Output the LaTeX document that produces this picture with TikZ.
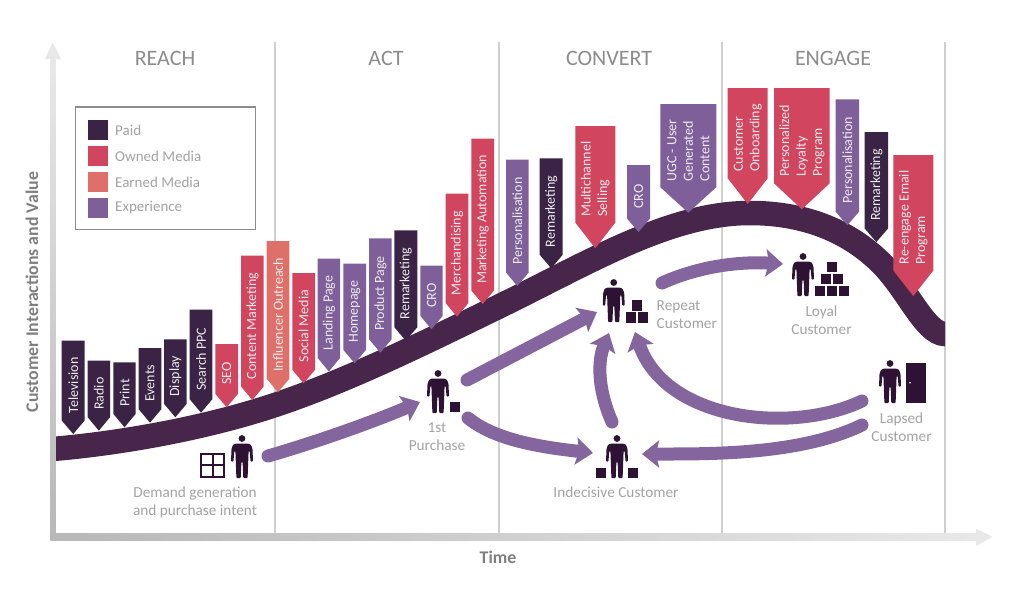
\documentclass[tikz,border=0pt]{standalone}
\usepackage{fontspec}
\setmainfont{Carlito}
\usetikzlibrary{arrows.meta,calc}
\definecolor{paidc}{HTML}{3B2345}
\definecolor{ownedc}{HTML}{D2455F}
\definecolor{earnedc}{HTML}{DF7069}
\definecolor{expc}{HTML}{7F5F99}
\definecolor{bandc}{HTML}{48264C}
\definecolor{iconc}{HTML}{2E1233}
\definecolor{labelc}{HTML}{A3A3A3}
\definecolor{headc}{HTML}{8C8C8C}
\definecolor{axisc}{HTML}{7F7F7F}
\definecolor{sepc}{HTML}{CFCFCF}
\tikzset{
  x=1pt,y=-1pt,
  pentext/.style={text=white!92!black,rotate=90,align=left,inner sep=0pt,font=\fontsize{14}{16.5}\selectfont},
  lab/.style={text=labelc,align=center,inner sep=0pt,font=\fontsize{15.3}{18}\selectfont},
  leglab/.style={text=labelc,anchor=west,inner sep=0pt,font=\fontsize{15}{18}\selectfont},
  phase/.style={text=headc,inner sep=0pt,font=\fontsize{22}{24}\selectfont},
  axlab/.style={text=axisc,inner sep=0pt,font=\fontsize{17.8}{20}\selectfont\bfseries},
  sep/.style={draw=sepc,line width=1.2pt},
  flow/.style={draw=expc!96!white,line width=13pt,line cap=round,-{Stealth[length=17pt,width=27pt,inset=3pt]}},
}
\newcommand\pennant[8]{%
  \pgfmathsetmacro\pcx{(#2+#3)/2}%
  \pgfmathsetmacro\psy{#5-#6}%
  \pgfmathsetmacro\ptxt{(#4+#5)/2-(#6>20?8:2)}%
  \fill[#7] (#2,#4) -- (#3,#4) -- (#3,\psy) -- (\pcx,#5) -- (#2,\psy) -- cycle;
  \node[pentext] (#1) at (\pcx,\ptxt) {#8};
}
\newcommand\personicon[2]{%
  \begin{scope}[shift={(#1,#2)}]
    \fill[iconc] (0,3.5) circle[radius=3.4];
    \fill[iconc,rounded corners=0.8pt] (-6,8.5) -- (6,8.5) -- (9,9.8) -- (10.5,14) -- (11,26.5) -- (8.6,26.5) -- (7.6,16) -- (6.6,16) -- (6.2,27) -- (5.6,43) -- (1.3,43) -- (0.6,27) -- (-0.6,27) -- (-1.3,43) -- (-5.6,43) -- (-6.2,27) -- (-6.6,16) -- (-7.6,16) -- (-8.6,26.5) -- (-11,26.5) -- (-10.5,14) -- (-9,9.8) -- cycle;
  \end{scope}}
\newcommand\crate[2]{\fill[iconc] (#1,#2) rectangle ++(10.4,10.4);}
\begin{document}
\begin{tikzpicture}
\useasboundingbox (0,0) rectangle (1024,594);
% separators
\draw[sep] (275,42) -- (275,535);
\draw[sep] (499,42) -- (499,535);
\draw[sep] (722,42) -- (722,535);
\draw[sep] (945,42) -- (945,535);
% axes
\shade[bottom color=black!28,top color=black!9] (50.7,59) rectangle (55.7,540);
\fill[black!9] (45,59) -- (52.7,42.7) -- (61,59) -- cycle;
\shade[left color=black!28,right color=black!9] (50.7,533.5) rectangle (976,540);
\fill[black!9] (976,529) -- (992.7,536.7) -- (976,546) -- cycle;
% phases
\node[phase] (reach) at (165,58) {REACH};
\node[phase] (act) at (386,58) {ACT};
\node[phase] (convert) at (609,58) {CONVERT};
\node[phase] (engage) at (833,58) {ENGAGE};
% axis labels
\node[axlab,rotate=90] (ylab) at (32,292) {Customer Interactions and Value};
\node[axlab] (xlab) at (498,557) {Time};
% legend
\draw[draw=black!45,line width=1.3pt] (75.7,107) rectangle (255.7,229.3);
\fill[paidc] (88.3,120.3) rectangle (108.3,140.3);
\fill[ownedc] (88.3,146.3) rectangle (108.3,166.3);
\fill[earnedc] (88.3,172) rectangle (108.3,192);
\fill[expc] (88.3,197.5) rectangle (108.3,217.5);
\node[leglab] (lpaid) at (115,130.5) {Paid};
\node[leglab] (lowned) at (115,156.5) {Owned Media};
\node[leglab] (learned) at (115,182) {Earned Media};
\node[leglab] (lexp) at (115,207.5) {Experience};
% band
\begin{scope}
\clip (56,150) rectangle (945,500);
\draw[bandc,line width=24.5pt] (40,450) .. controls (110,445) and (200,430) .. (275,405) .. controls (350,380) and (430,340) .. (500,306) .. controls (590,262) and (670,213) .. (750,213) .. controls (800,213) and (845,228) .. (880,262) .. controls (907,288) and (925,334) .. (945,334) -- (975,334);
\end{scope}
% pennants
\pennant{p1}{61.7}{84.7}{340.7}{434}{13.5}{paidc}{Television}
\pennant{p2}{87.7}{110}{360.7}{430.7}{13.5}{paidc}{Radio}
\pennant{p3}{113.3}{135.7}{362.3}{427.3}{13.5}{paidc}{Print}
\pennant{p4}{138.7}{161.3}{348}{422.7}{13.5}{paidc}{Events}
\pennant{p5}{164}{186.7}{339.3}{417.3}{13.5}{paidc}{Display}
\pennant{p6}{189.7}{212.3}{309.7}{412.7}{13.5}{paidc}{Search PPC}
\pennant{p7}{215.3}{238}{344}{407.3}{13.5}{ownedc}{SEO}
\pennant{p8}{241}{263.7}{255.7}{400}{13.5}{ownedc}{Content Marketing}
\pennant{p9}{266.7}{289.3}{241}{392.3}{13.5}{earnedc}{Influencer Outreach}
\pennant{p10}{292.3}{315}{273}{383.3}{13.5}{ownedc}{Social Media}
\pennant{p11}{317.7}{340}{258.7}{371.5}{13.5}{expc}{Landing Page}
\pennant{p12}{343.3}{366}{263.7}{363.3}{13.5}{expc}{Homepage}
\pennant{p13}{369}{391.7}{238.3}{352.7}{13.5}{expc}{Product Page}
\pennant{p14}{394.3}{417.3}{230.3}{340.7}{13.5}{paidc}{Remarketing}
\pennant{p15}{420.3}{442.7}{265.7}{329.3}{13.5}{expc}{CRO}
\pennant{p16}{445.7}{468.3}{193.7}{316.7}{13.5}{ownedc}{Merchandising}
\pennant{p17}{471.3}{494}{138.7}{304}{13.5}{ownedc}{Marketing Automation}
\pennant{p18}{506}{528.7}{159.7}{286}{13.5}{expc}{Personalisation}
\pennant{p19}{539.7}{562.7}{158.3}{268.3}{13.5}{paidc}{Remarketing}
\pennant{p20}{575.3}{615.3}{126}{248.3}{25.7}{ownedc}{Multichannel\\Selling}
\pennant{p21}{627}{650}{165}{232}{13.5}{expc}{CRO}
\pennant{p22}{660.3}{716.3}{104}{212.7}{25.5}{expc}{UGC - User\\Generated\\Content}
\pennant{p23}{727.7}{767.7}{88}{204}{25.7}{ownedc}{Customer\\Onboarding}
\pennant{p24}{774}{829.7}{88}{209.3}{26}{ownedc}{Personalized\\Loyalty\\Program}
\pennant{p25}{835.7}{859}{99.3}{225.3}{13.5}{expc}{Personalisation}
\pennant{p26}{864.7}{888}{132}{242}{13.5}{paidc}{Remarketing}
\pennant{p27}{893.3}{933.3}{155}{296}{25.5}{ownedc}{Re-engage Email\\Program}
% figures
\personicon{242}{435}
\draw[iconc,line width=2pt] (201,453.7) rectangle (224.3,477);
\draw[iconc,line width=2pt] (212.6,453.7) -- (212.6,477) (201,465.3) -- (224.3,465.3);
\personicon{438}{370}
\crate{450}{402}
\personicon{613.7}{279}
\crate{632}{300.3}\crate{625.7}{312.3}\crate{637.7}{312.3}
\personicon{617}{435}
\crate{595.7}{467.7}\crate{628}{467.7}
\personicon{803}{253}
\crate{815}{285.7}\crate{827}{285.7}\crate{839}{285.7}
\crate{821}{273.7}\crate{833}{273.7}
\crate{827}{261.7}
\personicon{890}{360}
\fill[iconc] (905.7,362.7) rectangle (925.7,403.3);
\fill[white] (910,382.7) circle[radius=0.9];
% labels
\node[lab] (demand) at (195,502) {Demand generation\\and purchase intent};
\node[lab] (first) at (437,437) {1st\\Purchase};
\node[lab] (indecisive) at (616,492) {Indecisive Customer};
\node[lab,align=left,anchor=west] (repeat) at (656.5,315) {Repeat\\Customer};
\node[lab] (loyal) at (821.5,320) {Loyal\\Customer};
\node[lab] (lapsed) at (901.5,427.5) {Lapsed\\Customer};
% flows
\coordinate (demandOut) at (268,456);
\coordinate (firstIn) at (420,402);
\coordinate (firstUp) at (467,380);
\coordinate (repeatIn) at (597,312);
\coordinate (firstDown) at (468,418);
\coordinate (indIn) at (593,453);
\coordinate (indUp) at (612,422);
\coordinate (repeatBottom) at (609,333);
\coordinate (lapsedUp) at (862,401);
\coordinate (repeatRight) at (635,332);
\coordinate (lapsedDown) at (862,425);
\coordinate (indRight) at (642,454);
\coordinate (repeatOut) at (662,283);
\coordinate (loyalIn) at (783,264);
\draw[flow] (demandOut) .. controls (320,441) and (375,421) .. (firstIn);
\draw[flow] (firstUp) -- (repeatIn);
\draw[flow] (firstDown) .. controls (495,440) and (540,447) .. (indIn);
\draw[flow] (indUp) .. controls (600,395) and (596,365) .. (repeatBottom);
\draw[flow] (lapsedUp) .. controls (790,435) and (665,420) .. (repeatRight);
\draw[flow] (lapsedDown) .. controls (800,455) and (710,454) .. (indRight);
\draw[flow] (repeatOut) .. controls (695,268) and (735,261) .. (loyalIn);
\end{tikzpicture}
\end{document}
